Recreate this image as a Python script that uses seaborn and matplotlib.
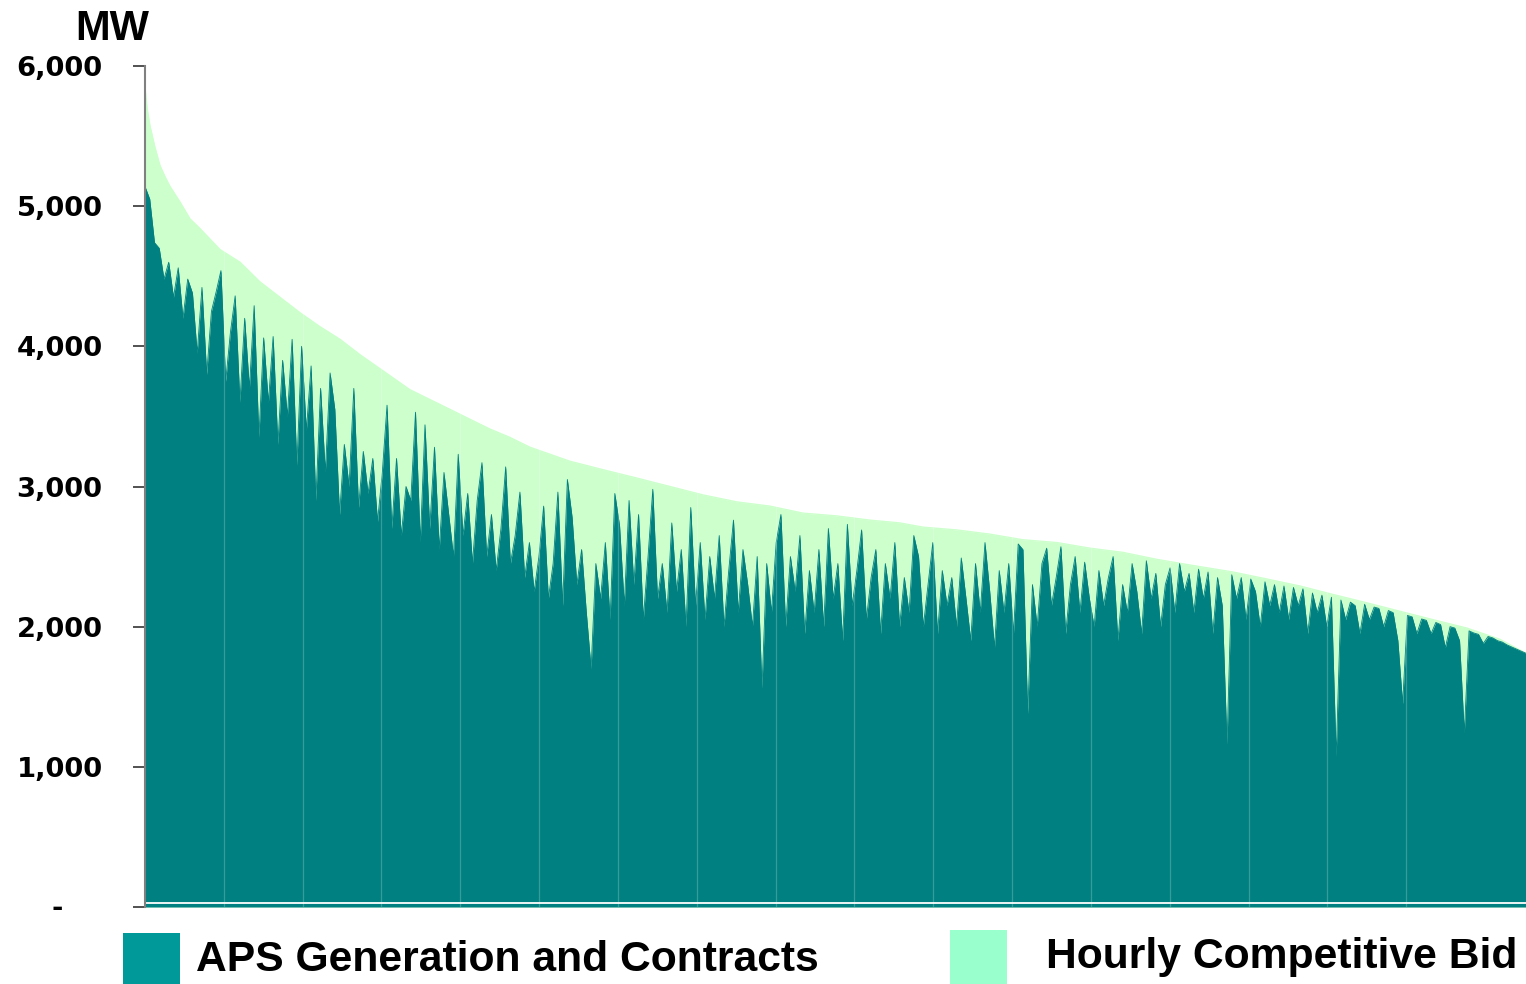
import numpy as np
import pandas as pd
import matplotlib
matplotlib.use("Agg")
import matplotlib.pyplot as plt
from matplotlib.patches import Rectangle
import seaborn as sns

# ---------------- data ----------------
# Load duration curve: total load (APS + hourly competitive bid), MW by sorted hour
total_hours = [0, 13, 32, 63, 95, 127, 159, 222, 285, 349, 476, 603, 729, 856, 983,
               1110, 1237, 1364, 1491, 1681, 1808, 1935, 2061, 2188, 2315, 2442, 2569,
               2696, 2905, 3121, 3330, 3539, 3755, 3964, 4174, 4389, 4599, 4789, 4935,
               5150, 5360, 5569, 5785, 5994, 6203, 6419, 6628, 6901, 7117, 7326, 7535,
               7751, 7960, 8170, 8385, 8594, 8760]
total_mw = [5850, 5700, 5570, 5420, 5290, 5210, 5140, 5030, 4910, 4840, 4690, 4600, 4460,
            4350, 4240, 4140, 4050, 3940, 3840, 3690, 3620, 3550, 3480, 3410, 3350, 3280,
            3230, 3180, 3120, 3060, 3000, 2940, 2890, 2860, 2810, 2790, 2760, 2740, 2710,
            2690, 2660, 2620, 2600, 2560, 2530, 2480, 2440, 2390, 2340, 2290, 2230, 2170,
            2110, 2050, 1990, 1910, 1810]

# APS generation and contracts, MW, sampled evenly across the sorted 8,760 hours
aps_mw = [
    5140, 5050, 4740, 4700, 4480, 4600, 4350, 4560, 4200, 4480,
    4380, 3950, 4420, 3800, 4250, 4390, 4540, 3750, 4100, 4360,
    3600, 4200, 3700, 4290, 3350, 4060, 3600, 4070, 3300, 3900,
    3500, 4050, 3150, 4000, 3400, 3860, 2900, 3700, 3100, 3810,
    3550, 2800, 3300, 3000, 3700, 2850, 3250, 2950, 3200, 2750,
    3100, 3580, 2700, 3200, 2650, 3000, 2900, 3530, 2600, 3440,
    2700, 3280, 2550, 3100, 2800, 2500, 3230, 2650, 2950, 2450,
    2900, 3170, 2500, 2800, 2400, 2700, 3140, 2450, 2650, 2960,
    2350, 2600, 2250, 2500, 2860, 2200, 2450, 2960, 2150, 3050,
    2780, 2300, 2550, 2100, 1700, 2450, 2200, 2600, 2050, 2950,
    2720, 2150, 2900, 2300, 2800, 2050, 2500, 2980, 2200, 2450,
    2100, 2740, 2250, 2550, 2000, 2850, 2150, 2600, 2050, 2500,
    2200, 2650, 2000, 2400, 2760, 2100, 2550, 2300, 2000, 2500,
    1560, 2450, 2100, 2600, 2800, 2000, 2500, 2250, 2650, 1950,
    2400, 2100, 2550, 2000, 2700, 2200, 2450, 1900, 2730, 2150,
    2400, 2690, 2050, 2350, 2550, 1950, 2450, 2200, 2600, 2000,
    2350, 2100, 2650, 2500, 2000, 2300, 2600, 1950, 2400, 2150,
    2350, 2000, 2490, 2200, 1900, 2450, 2100, 2600, 2250, 1850,
    2400, 2100, 2450, 1950, 2590, 2550, 1380, 2300, 2000, 2450,
    2560, 2150, 2350, 2570, 1950, 2300, 2500, 2100, 2460, 2200,
    2000, 2400, 2150, 2350, 2500, 1900, 2300, 2100, 2450, 2250,
    1950, 2470, 2200, 2380, 2000, 2300, 2420, 2100, 2450, 2250,
    2380, 2100, 2410, 2200, 2390, 1950, 2350, 2150, 1160, 2370,
    2200, 2350, 2050, 2340, 2250, 2000, 2320, 2150, 2300, 2100,
    2290, 2050, 2280, 2150, 2270, 1950, 2240, 2100, 2225, 2000,
    2210, 1070, 2190, 2050, 2175, 2150, 1950, 2160, 2050, 2140,
    2130, 2000, 2115, 2100, 1900, 1450, 2080, 2070, 1950, 2055,
    2045, 1950, 2030, 2015, 1850, 2000, 1990, 1900, 1240, 1970,
    1955, 1945, 1880, 1930, 1920, 1900, 1890, 1870, 1855, 1840,
    1825, 1810,
]

y_ticks = [0, 1000, 2000, 3000, 4000, 5000, 6000]
y_tick_labels = ["", "1,000", "2,000", "3,000", "4,000", "5,000", "6,000"]
legend_labels = ["APS Generation and Contracts", "Hourly Competitive Bid"]
hours_in_year = 8760

# ---------------- style ----------------
W, H = 1526, 984
sns.set_theme(style="white")
plt.rcParams["font.family"] = ["Liberation Sans", "DejaVu Sans"]

c_aps = "#008080"
c_bid = "#CCFFCC"
c_aps_leg = "#009999"
c_bid_leg = "#99FFCC"

fig = plt.figure(figsize=(W / 100, H / 100), dpi=100)
ax = fig.add_axes([145 / W, 77 / H, 1381 / W, 841 / H])

# total load envelope (light green)
ax.fill_between(total_hours, 0, total_mw, color=c_bid, lw=0, zorder=1)
sns.lineplot(x=total_hours, y=total_mw, color=c_bid, lw=1, ax=ax, zorder=1)

# APS area (teal)
df = pd.DataFrame({
    "hour": np.linspace(0, hours_in_year, len(aps_mw)),
    "mw": aps_mw,
})
ax.fill_between(df["hour"], 0, df["mw"], color=c_aps, lw=0, zorder=2)
sns.lineplot(data=df, x="hour", y="mw", color=c_aps, lw=0.6, ax=ax, zorder=2)

# faint 500-hour lines and white base line
for h in range(500, 8001, 500):
    ax.axvline(h, color="white", alpha=0.22, lw=0.9, zorder=3)
ax.axhline(30, color="white", lw=1.3, zorder=4)

ax.set_xlim(0, hours_in_year)
ax.set_ylim(0, 6000)
ax.set_xticks([])
ax.set_xlabel("")
ax.set_ylabel("")
ax.set_yticks(y_ticks)
ax.set_yticklabels(y_tick_labels, fontsize=19.7, fontweight="bold",
                   family=["DejaVu Sans"])
ax.tick_params(axis="y", left=True, length=8.6, width=1.2, color="#333333",
               pad=22, labelcolor="black")
for s in ["top", "right", "bottom"]:
    ax.spines[s].set_visible(False)
ax.spines["left"].set_color("#808080")
ax.spines["left"].set_linewidth(1.5)
ax.spines["left"].set_zorder(5)
ax.set_facecolor("white")

# "-" zero label (accounting style)
fig.text(57 / W, 1 - 909 / H, "-", ha="center", va="center", fontsize=19.7,
         fontweight="bold", family=["DejaVu Sans"], color="black")

# unit label
fig.text(75 / W, 1 - 40 / H, "MW", ha="left", va="baseline", fontsize=30,
         fontweight="bold", color="black")

# legend
fig.patches.append(Rectangle((123 / W, -0.01), 57 / W, (984 - 933) / H + 0.01,
                             transform=fig.transFigure, color=c_aps_leg, lw=0))
fig.patches.append(Rectangle((950 / W, -0.01), 57 / W, (984 - 930) / H + 0.01,
                             transform=fig.transFigure, color=c_bid_leg, lw=0))
fig.text(196 / W, 1 - 971 / H, legend_labels[0], ha="left", va="baseline",
         fontsize=30.7, fontweight="bold", color="black")
fig.text(1046 / W, 1 - 968 / H, legend_labels[1], ha="left", va="baseline",
         fontsize=30.7, fontweight="bold", color="black")

fig.savefig("out.png", dpi=100, facecolor="white")
